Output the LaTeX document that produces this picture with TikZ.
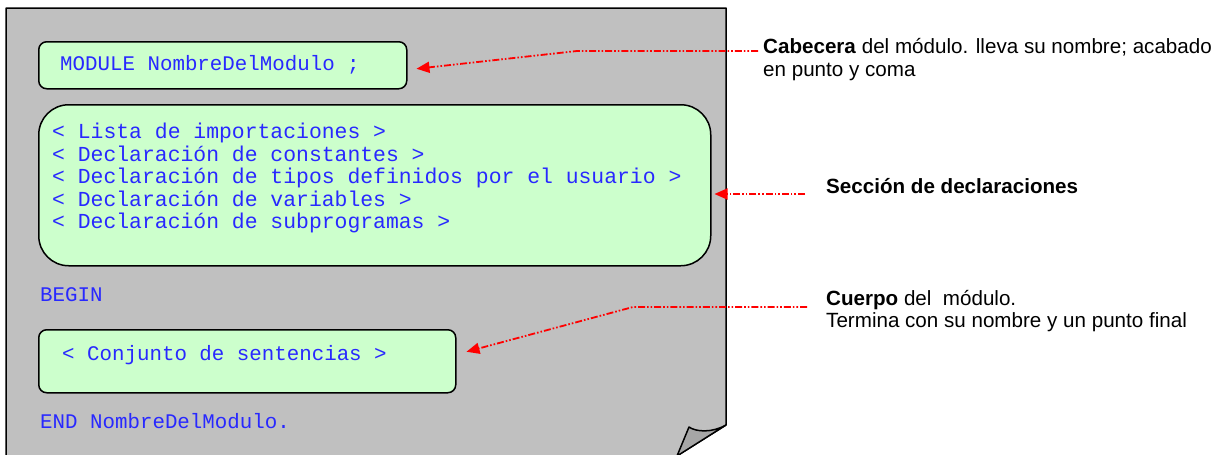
\documentclass[tikz,border=0pt]{standalone}
\usepackage{fontspec}
\setmainfont{Liberation Sans}
\setmonofont{Liberation Mono}
\usetikzlibrary{arrows.meta}
\definecolor{pagegray}{RGB}{192,192,192}
\definecolor{foldgray}{RGB}{166,166,166}
\definecolor{boxgreen}{RGB}{204,255,204}
\definecolor{codeblue}{RGB}{40,40,255}
\definecolor{arrowred}{RGB}{255,0,0}
\begin{document}
\begin{tikzpicture}[x=1pt,y=-1pt,
  box/.style={draw=black, line width=1.5pt, fill=boxgreen, rounded corners=8pt, inner sep=0pt, anchor=north west},
  code/.style={font=\ttfamily\fontsize{20.8}{22.6}\selectfont, text=codeblue, inner sep=0pt, anchor=base west},
  bigcode/.style={code, font=\ttfamily\fontsize{21.4}{22.6}\selectfont},
  note/.style={font=\fontsize{20.6}{23}\selectfont, text=black, inner sep=0pt, anchor=base west},
  callout/.style={draw=arrowred, line width=1.8pt, dash pattern=on 7pt off 2pt on 1.6pt off 2pt on 1.6pt off 2pt, -{Triangle[length=13pt,width=11pt]}}
]
\useasboundingbox (0,0) rectangle (1218,455);
\fill[white] (0,0) rectangle (1218,455);
% page with folded corner
\filldraw[fill=pagegray, draw=black, line width=1.5pt, line join=round] (6,470) -- (6,8) -- (726,8) -- (726,425) -- (667,462) -- (667,470) -- cycle;
\filldraw[fill=foldgray, draw=black, line width=1.5pt, line join=round] (726,425) .. controls (712,433) and (696,432) .. (689,427) -- (677,456) -- cycle;
% boxes
\node[box, minimum width=368pt, minimum height=47pt] (hdr) at (38,41) {};
\node[box, rounded corners=30pt, minimum width=672pt, minimum height=161pt] (decl) at (38,104) {};
\node[box, minimum width=417pt, minimum height=63pt] (body) at (38,329) {};
% code text
\node[code] (hdrtxt) at (60,70) {MODULE NombreDelModulo ;};
\node[bigcode] (l1) at (52,138) {< Lista de importaciones >};
\node[bigcode] (l2) at (52,161) {< Declaración de constantes >};
\node[bigcode] (l3) at (52,183) {< Declaración de tipos definidos por el usuario >};
\node[bigcode] (l4) at (52,206) {< Declaración de variables >};
\node[bigcode] (l5) at (52,228) {< Declaración de subprogramas >};
\node[code] (begin) at (40,301) {BEGIN};
\node[code] (bodytxt) at (62,360) {< Conjunto de sentencias >};
\node[code] (endtxt) at (40,428) {END NombreDelModulo.};
% notes
\node[note] (cab1) at (763,53) {\textbf{Cabecera} del módulo. lleva su nombre; acabado};
\node[note] (cab2) at (763,76) {en punto y coma};
\node[note] (sec) at (826,193) {\textbf{Sección de declaraciones}};
\node[note] (cue1) at (826,305) {\textbf{Cuerpo} del~~módulo.};
\node[note] (cue2) at (826,327) {Termina con su nombre y un punto final};
% connectors
\coordinate (a1s) at (758,51);
\coordinate (a1b) at (577,51);
\draw[callout] (a1s) -- (a1b) -- ([shift={(9pt,-3.5pt)}]hdr.east);
\coordinate (a2s) at (805,194);
\coordinate (d2) at ([xshift=3pt]decl.east);
\draw[callout] (a2s) -- (d2 |- a2s);
\coordinate (a3s) at (807,307);
\coordinate (a3b) at (633,307);
\draw[callout] (a3s) -- (a3b) -- ([shift={(10pt,9.5pt)}]body.east);
\end{tikzpicture}
\end{document}
